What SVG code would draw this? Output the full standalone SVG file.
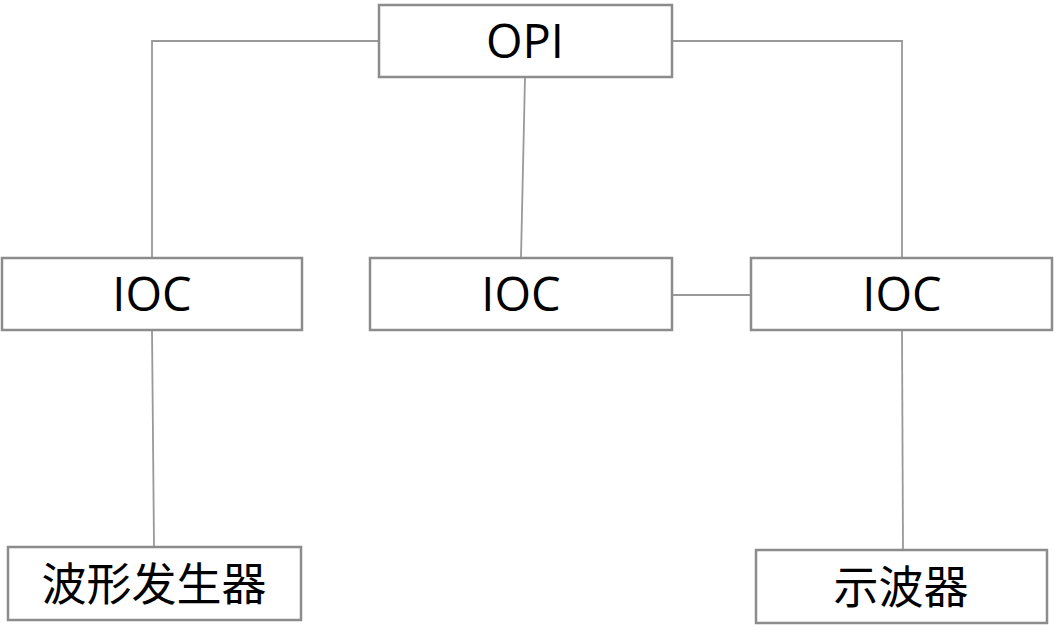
<svg xmlns="http://www.w3.org/2000/svg" width="1055" height="643" viewBox="0 0 1055 643">
<style>
.box{fill:#fff;stroke:#8c8c8c;stroke-width:2.5}
.lbl{font-family:"Open Sans","Noto Sans CJK SC",sans-serif;font-size:47px;fill:#000;text-anchor:middle}
.cjk{font-family:"Noto Sans CJK SC",sans-serif;font-size:45px;fill:#000;text-anchor:middle}
.conn{fill:none;stroke:#999;stroke-width:1.8}
</style>
<rect width="1055" height="643" fill="#fff"/>
<g id="connectors">
<polyline class="conn" points="379,41 152,41 152,258"/>
<polyline class="conn" points="672,41 902,41 902,258"/>
<line class="conn" x1="525" y1="77" x2="521" y2="258"/>
<line class="conn" x1="672" y1="295" x2="751" y2="295"/>
<line class="conn" x1="152" y1="330" x2="154" y2="547"/>
<line class="conn" x1="902" y1="330" x2="903" y2="550"/>
</g>
<g id="opi"><rect class="box" x="379" y="5" width="293" height="72"/><text class="lbl" x="525" y="58">OPI</text></g>
<g id="ioc1"><rect class="box" x="2" y="258" width="300" height="72"/><text class="lbl" x="152" y="311">IOC</text></g>
<g id="ioc2"><rect class="box" x="370" y="258" width="302" height="72"/><text class="lbl" x="521" y="311">IOC</text></g>
<g id="ioc3"><rect class="box" x="751" y="258" width="301" height="72"/><text class="lbl" x="902" y="311">IOC</text></g>
<g id="wavegen"><rect class="box" x="8" y="547" width="293" height="73"/><text class="cjk" x="154" y="601">波形发生器</text></g>
<g id="scope"><rect class="box" x="756" y="550" width="291" height="73"/><text class="cjk" x="901" y="604">示波器</text></g>
</svg>
